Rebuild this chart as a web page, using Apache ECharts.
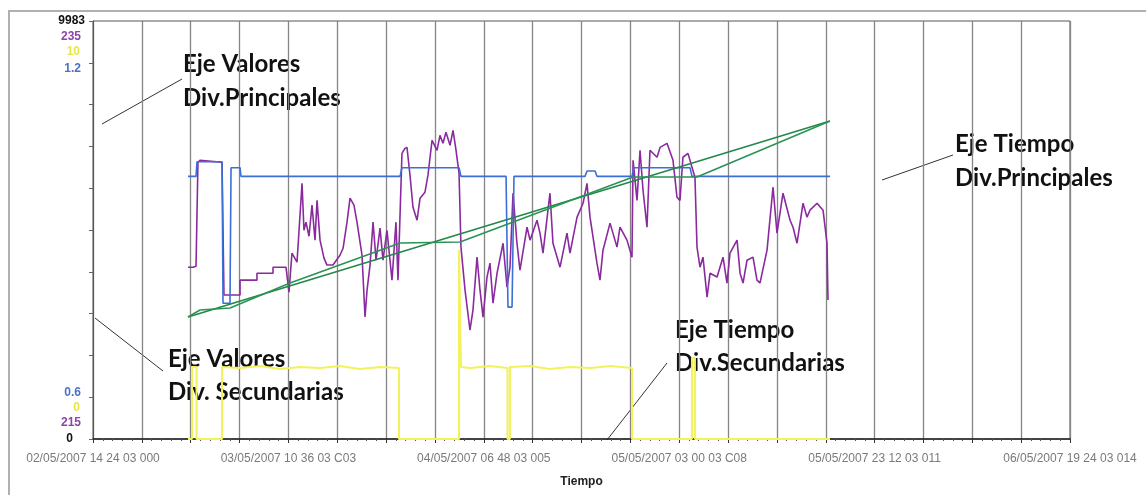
<!DOCTYPE html>
<html><head><meta charset="utf-8">
<script src="https://cdn.jsdelivr.net/npm/echarts@6/dist/echarts.min.js"></script>
<style>html,body{margin:0;padding:0;background:#fff}#c{width:1146px;height:495px}</style>
</head><body><div id="c"></div>
<script>
// Time axis labels (one every 4 main divisions)
const timeLabels = ['02/05/2007 14 24 03 000', '03/05/2007 10 36 03 C03', '04/05/2007 06 48 03 005',
  '05/05/2007 03 00 03 C08', '05/05/2007 23 12 03 011', '06/05/2007 19 24 03 014'];
// Pen scale labels
const blackAxisLabels = [0, 9983];
const purpleAxisLabels = [215, 235];
const yellowAxisLabels = [0, 10];
const blueAxisLabels = [0.6, 1.2];

// Series: [hours since start, value]
const purpleSeries = [[9.82,223.06],[10.34,223.06],[10.65,223.11],[10.85,228.49],[11.06,228.59],[13.34,228.49],[13.54,221.62],[15.20,221.62],[15.20,222.39],[16.95,222.39],[16.95,222.75],[18.61,222.75],[18.61,223.06],[19.95,223.06],[20.26,221.77],[20.57,223.79],[21.09,223.32],[21.61,227.40],[21.81,224.97],[22.02,225.39],[22.33,224.66],[22.64,226.27],[22.95,224.46],[23.16,226.52],[23.47,224.46],[23.88,223.53],[24.19,223.17],[24.81,223.17],[25.53,223.68],[25.85,224.04],[26.26,225.39],[26.57,226.63],[26.98,226.27],[27.29,225.39],[27.81,223.68],[28.12,220.48],[28.33,221.87],[28.64,223.17],[28.95,225.39],[29.26,223.42],[29.67,225.08],[29.98,223.42],[30.39,224.97],[30.91,222.39],[31.32,225.39],[31.53,222.39],[31.94,228.95],[32.25,229.21],[32.46,229.26],[32.77,227.82],[33.08,226.16],[33.50,225.49],[33.81,226.63],[34.32,226.94],[34.63,227.82],[35.05,229.63],[35.56,229.11],[35.87,229.88],[36.18,229.47],[36.49,230.04],[36.91,229.37],[37.22,230.14],[37.53,229.11],[37.84,227.92],
[38.04,224.10],[38.46,221.87],[38.97,219.81],[39.28,220.84],[39.70,223.58],[40.01,221.87],[40.32,220.48],[40.73,222.55],[41.04,223.27],[41.35,221.20],[41.77,222.75],[42.39,224.30],[42.80,222.03],[43.11,223.06],[43.42,226.89],[43.83,224.30],[44.14,222.91],[44.87,225.13],[45.18,224.46],[45.90,225.49],[46.21,224.82],[46.52,223.79],[47.24,226.89],[47.55,224.30],[48.28,223.06],[49.00,224.82],[49.31,223.79],[50.04,225.65],[50.66,226.37],[51.07,227.40],[51.38,225.65],[52.10,223.27],[52.41,222.39],[52.72,223.94],[53.45,225.34],[54.17,224.10],[54.48,225.13],[55.20,224.46],[55.72,223.58],[55.83,228.59],[56.24,226.52],[56.55,229.11],[56.86,227.04],[57.27,225.13],[57.58,229.11],[58.31,228.75],[58.62,229.26],[59.34,229.47],[59.96,228.59],[60.37,226.68],[60.68,226.52],[60.99,228.75],[61.51,228.95],[61.92,228.23],[62.23,227.71],[62.44,224.10],[62.75,223.06],[63.06,223.58],[63.48,221.51],[63.79,222.75],[64.51,222.55],[65.13,223.58],[65.54,222.24],[65.85,223.79],[66.58,224.46],[66.89,222.75],[67.20,222.24],[67.61,223.42],[68.23,223.58],[68.64,222.39],[68.95,222.24],[69.68,223.94],[70.30,227.20],[70.71,224.82],[71.33,226.89],[72.06,225.49],[72.37,225.13],[72.78,224.30],[73.09,225.34],[73.40,226.37],[73.81,225.65],[74.12,226.01],[74.85,226.37],[75.47,226.01],[75.88,224.30],[75.98,221.36]];

const blueSeries = [[9.82,1.0],[10.65,1.0],[10.75,1.027],[13.34,1.027],[13.44,0.765],[14.16,0.765],[14.27,1.016],[15.20,1.016],[15.30,1.0],[31.74,1.0],[31.94,1.016],[37.84,1.016],[38.04,1.0],[42.70,1.0],[42.90,0.758],[43.32,0.758],[43.52,1.0],[50.86,1.0],[51.07,1.01],[51.90,1.01],[52.10,1.0],[55.72,1.0],[55.93,1.016],[61.72,1.016],[61.92,1.0],[76.19,1.0]];

const greenLinear = [[9.82,2914],[76.19,7595]];
const greenCounter = [[9.82,2914],[11.06,3081],[14.16,3129],[20.37,3726],[31.74,4681],[37.94,4705],[55.83,6257],[62.44,6257],[76.19,7595]];

const yellowSeries = [[9.82,0],[10.23,0],[10.23,1720],[10.70,1720],[10.70,0],[13.34,0],[13.34,1720],[15.2,1696],[17.3,1744],[19.3,1672],[21.4,1720],[23.5,1696],[25.5,1744],[27.6,1672],[29.7,1720],[31.63,1696],[31.63,0],[37.84,0],[37.84,4514],[38.04,4514],[38.04,1720],[39.0,1696],[41.0,1744],[42.85,1696],[42.85,0],[43.10,0],[43.10,1720],[45.2,1744],[47.2,1672],[49.3,1720],[51.4,1696],[53.5,1744],[55.72,1696],[55.72,0],[61.92,0],[61.92,1934],[62.23,1934],[62.23,0],[76.19,0]];

const chart = echarts.init(document.getElementById('c'), null, {renderer: 'canvas'});
const FF = 'Liberation Sans, Arial, sans-serif';
const annFont = 'bold 24px Lato, sans-serif';
function penAxis(min, max, labels, color, margin, fmt) {
  return {
    type: 'value', position: 'left', min: min, max: max,
    axisLine: {show: false}, axisTick: {show: false}, splitLine: {show: false},
    axisLabel: {customValues: labels, margin: margin, fontSize: 12, fontWeight: 'bold', color: color, fontFamily: FF,
      formatter: fmt || (v => String(v))}
  };
}
const option = {
  animation: false,
  backgroundColor: '#fff',
  grid: {left: 93, right: 76, top: 21, bottom: 56, show: true, borderColor: '#555', borderWidth: 1, backgroundColor: '#fff'},
  xAxis: {
    type: 'value', min: 0, max: 101, interval: 5.05,
    name: 'Tiempo', nameLocation: 'middle', nameGap: 37,
    nameTextStyle: {fontSize: 12, fontWeight: 'bold', color: '#222', fontFamily: FF},
    axisLine: {onZero: false, lineStyle: {color: '#222', width: 1.5}},
    axisTick: {show: true, length: 4, lineStyle: {color: '#333'}},
    minorTick: {show: true, splitNumber: 5, length: 2, lineStyle: {color: '#555'}},
    splitLine: {show: true, lineStyle: {color: '#858585', width: 1.3}},
    axisLabel: {
      interval: 0, margin: 14, fontSize: 12, color: '#7a7a7a', fontFamily: FF,
      formatter: function (v) {
        const k = Math.round(v / 5.05);
        return k % 4 === 0 ? (timeLabels[k / 4] || '') : '';
      }
    }
  },
  yAxis: [
    {
      type: 'value', position: 'left', min: 0, max: 9983, interval: 998.3,
      axisLine: {show: true, lineStyle: {color: '#555', width: 1}},
      axisTick: {show: true, length: 4, lineStyle: {color: '#666'}},
      splitLine: {show: false},
      axisLabel: {customValues: blackAxisLabels, margin: 8, fontSize: 12, fontWeight: 'bold', color: '#111', fontFamily: FF,
        formatter: v => v === 0 ? '{z|0}' : String(v),
        rich: {z: {padding: [0, 12, 0, 0], fontSize: 12, fontWeight: 'bold', color: '#111', fontFamily: FF}}}
    },
    penAxis(214.17, 235.8, purpleAxisLabels, '#8e44ad', 12),
    penAxis(-0.871, 10.871, yellowAxisLabels, '#e6e64a', 13),
    penAxis(0.5139, 1.2875, blueAxisLabels, '#4a72c8', 12, v => v.toFixed(1))
  ],
  series: [
    {type: 'line', name: 'yellow', data: yellowSeries, yAxisIndex: 0, showSymbol: false, lineStyle: {color: '#f2f25a', width: 2}, itemStyle: {color: '#f2f25a'}},
    {type: 'line', name: 'purple', data: purpleSeries, yAxisIndex: 1, showSymbol: false, lineStyle: {color: '#8a2a9e', width: 1.6}, itemStyle: {color: '#8a2a9e'}},
    {type: 'line', name: 'blue', data: blueSeries, yAxisIndex: 3, showSymbol: false, lineStyle: {color: '#3b6fd6', width: 1.6}, itemStyle: {color: '#3b6fd6'}},
    {type: 'line', name: 'green1', data: greenLinear, yAxisIndex: 0, showSymbol: false, lineStyle: {color: '#23874a', width: 1.6}, itemStyle: {color: '#23874a'}},
    {type: 'line', name: 'green2', data: greenCounter, yAxisIndex: 0, showSymbol: false, lineStyle: {color: '#2a9355', width: 1.6}, itemStyle: {color: '#2a9355'}}
  ],
  graphic: [
    {type: 'rect', silent: true, shape: {x: 9, y: 11, width: 1200, height: 600}, style: {fill: 'none', stroke: '#b0b0b0', lineWidth: 2}},
    {type: 'line', shape: {x1: 102, y1: 124, x2: 182, y2: 79}, style: {stroke: '#333', lineWidth: 1}},
    {type: 'text', style: {text: 'Eje Valores', x: 183, y: 64, font: annFont, fill: '#111', verticalAlign: 'middle', textVerticalAlign: 'middle'}},
    {type: 'text', style: {text: 'Div.Principales', x: 183, y: 98, font: annFont, fill: '#111', verticalAlign: 'middle', textVerticalAlign: 'middle'}},
    {type: 'line', shape: {x1: 95, y1: 318, x2: 163, y2: 371}, style: {stroke: '#333', lineWidth: 1}},
    {type: 'text', style: {text: 'Eje Valores', x: 168, y: 359, font: annFont, fill: '#111', verticalAlign: 'middle', textVerticalAlign: 'middle'}},
    {type: 'text', style: {text: 'Div. Secundarias', x: 168, y: 392, font: annFont, fill: '#111', verticalAlign: 'middle', textVerticalAlign: 'middle'}},
    {type: 'line', shape: {x1: 882, y1: 180, x2: 953, y2: 155}, style: {stroke: '#333', lineWidth: 1}},
    {type: 'text', style: {text: 'Eje Tiempo', x: 955, y: 144, font: annFont, fill: '#111', verticalAlign: 'middle', textVerticalAlign: 'middle'}},
    {type: 'text', style: {text: 'Div.Principales', x: 955, y: 178, font: annFont, fill: '#111', verticalAlign: 'middle', textVerticalAlign: 'middle'}},
    {type: 'line', shape: {x1: 607, y1: 440, x2: 667, y2: 363}, style: {stroke: '#333', lineWidth: 1}},
    {type: 'text', style: {text: 'Eje Tiempo', x: 675, y: 330, font: annFont, fill: '#111', verticalAlign: 'middle', textVerticalAlign: 'middle'}},
    {type: 'text', style: {text: 'Div.Secundarias', x: 675, y: 363, font: annFont, fill: '#111', verticalAlign: 'middle', textVerticalAlign: 'middle'}}
  ]
};
chart.setOption(option);
</script>
</body></html>
